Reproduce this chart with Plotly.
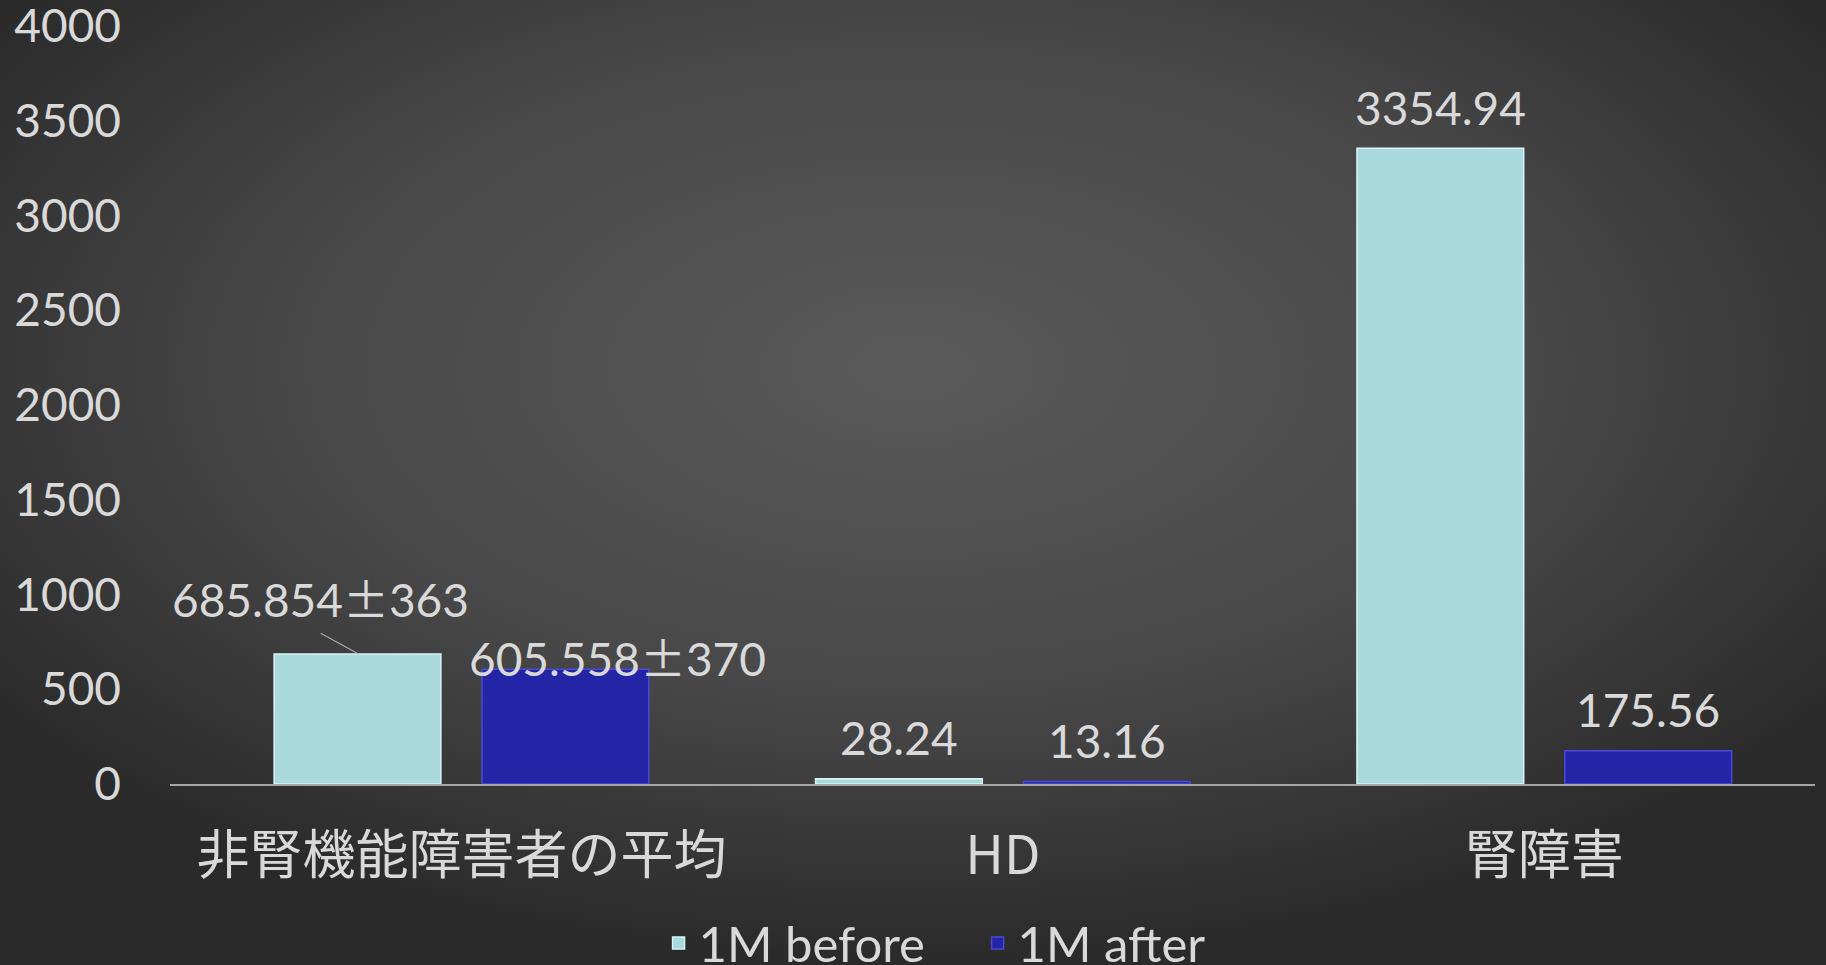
import base64
import plotly.graph_objects as go

categories = ["非腎機能障害者の平均", "HD", "腎障害"]
before_vals = [685.854, 28.24, 3354.94]
after_vals = [605.558, 13.16, 175.56]
before_labels = ["685.854±363", "28.24", "3354.94"]
after_labels = ["605.558±370", "13.16", "175.56"]
series_names = ["1M before", "1M after"]
y_ticks = [0, 500, 1000, 1500, 2000, 2500, 3000, 3500, 4000]

W, H = 1826, 965
L, R, T, B = 170, 11, 26, 181
pw, ph = W - L - R, H - T - B

TXT = "#d9d9d9"
FONT = "Lato, 'Noto Sans CJK JP', sans-serif"
C_BEFORE = "#aadadd"
C_AFTER = "#2424a6"


def fmt(s):
    # render the plus-minus sign with the wider CJK glyph, as in the original
    return s.replace("±", "<span style=\"font-family:'Noto Sans CJK JP'\">±</span>")


fig = go.Figure()
fig.add_trace(go.Bar(name=series_names[0], x=categories, y=before_vals,
                     marker=dict(color=C_BEFORE, line=dict(color="#d8f6f8", width=1.5))))
fig.add_trace(go.Bar(name=series_names[1], x=categories, y=after_vals,
                     marker=dict(color=C_AFTER, line=dict(color="#4a4ad8", width=1.5))))

# background radial gradient as svg
svg = f'''<svg xmlns="http://www.w3.org/2000/svg" width="{W}" height="{H}" viewBox="0 0 {W} {H}" preserveAspectRatio="none">
<defs><radialGradient id="g" cx="0.5" cy="0.38" r="0.62" fx="0.5" fy="0.38">
<stop offset="0" stop-color="#5a5a5a"/><stop offset="0.55" stop-color="#484848"/><stop offset="1" stop-color="#2a2a2a"/>
</radialGradient></defs><rect width="{W}" height="{H}" fill="url(#g)"/></svg>'''
src = "data:image/svg+xml;base64," + base64.b64encode(svg.encode()).decode()
fig.add_layout_image(dict(source=src, xref="paper", yref="paper",
                          x=-L / pw, y=1 + T / ph, sizex=W / pw, sizey=H / ph,
                          sizing="stretch", layer="below", xanchor="left", yanchor="top"))

off = 0.192
annotations = []
for i in range(len(categories)):
    for vals, labs, sgn in ((before_vals, before_labels, -1), (after_vals, after_labels, 1)):
        if i == 0:
            continue
        annotations.append(dict(x=i + sgn * off, y=vals[i], xref="x", yref="y", text=labs[i],
                                showarrow=False, yanchor="middle", yshift=41,
                                font=dict(family=FONT, size=46, color=TXT)))
annotations.append(dict(x=0 - off, y=before_vals[0], xref="x", yref="y", text=fmt(before_labels[0]),
                        showarrow=False, yanchor="middle", yshift=57, xshift=-37,
                        font=dict(family=FONT, size=46, color=TXT)))
annotations.append(dict(x=0 + off, y=after_vals[0], xref="x", yref="y", text=fmt(after_labels[0]),
                        showarrow=False, yanchor="middle", yshift=13, xshift=52,
                        font=dict(family=FONT, size=46, color=TXT)))
fig.add_shape(type="line", xref="x", yref="y", x0=-0.26, x1=-0.19,
              y0=before_vals[0] + 110, y1=before_vals[0], line=dict(color="#a8a8a8", width=1.2))

fig.update_layout(
    width=W, height=H,
    margin=dict(l=L, r=R, t=T, b=B, autoexpand=False),
    paper_bgcolor="#404040", plot_bgcolor="rgba(0,0,0,0)",
    barmode="group", bargap=0.232, bargroupgap=0.198,
    font=dict(family=FONT, color=TXT, size=46),
    annotations=annotations,
    showlegend=True,
    legend=dict(orientation="h", x=0.297, xanchor="left", y=-0.21, yanchor="middle",
                font=dict(family=FONT, size=49, color=TXT), bgcolor="rgba(0,0,0,0)",
                entrywidth=274, entrywidthmode="pixels"),
    xaxis=dict(showline=True, linecolor="#a6a6a6", linewidth=2, showgrid=False, ticks="",
               tickfont=dict(family="'Noto Sans CJK JP', Lato, sans-serif", size=53, color=TXT),
               ticklabelstandoff=24),
    yaxis=dict(range=[0, 4000], tickmode="array", tickvals=y_ticks, showgrid=False,
               zeroline=False, showline=False, ticks="", ticklabeloverflow="allow",
               tickfont=dict(family=FONT, size=46, color=TXT), ticklabelstandoff=48),
)

fig.write_html("out.html", config={"displayModeBar": False},
               post_script="document.body.style.margin='0';document.body.style.overflow='hidden';")
